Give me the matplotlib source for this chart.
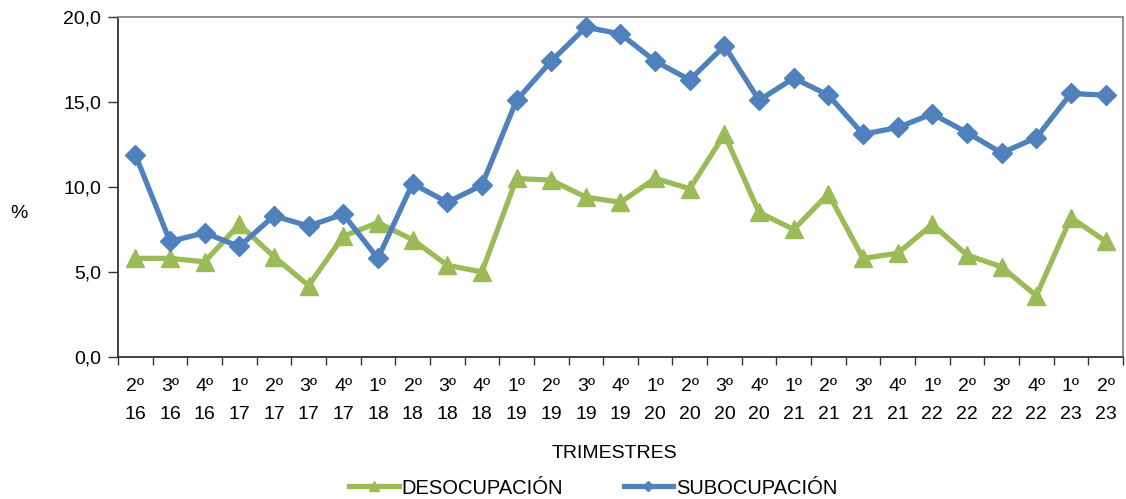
import matplotlib
matplotlib.use("Agg")
import matplotlib.pyplot as plt
import numpy as np

plt.rcParams['font.family'] = ['Liberation Sans', 'DejaVu Sans']

trimestres = ["2º", "3º", "4º", "1º", "2º", "3º", "4º", "1º", "2º", "3º", "4º",
              "1º", "2º", "3º", "4º", "1º", "2º", "3º", "4º", "1º", "2º", "3º",
              "4º", "1º", "2º", "3º", "4º", "1º", "2º"]
anios = ["16", "16", "16", "17", "17", "17", "17", "18", "18", "18", "18",
         "19", "19", "19", "19", "20", "20", "20", "20", "21", "21", "21",
         "21", "22", "22", "22", "22", "23", "23"]
desocupacion = [5.8, 5.8, 5.6, 7.8, 5.9, 4.2, 7.1, 7.9, 6.9, 5.4, 5.0,
                10.5, 10.4, 9.4, 9.1, 10.5, 9.9, 13.1, 8.5, 7.5, 9.6, 5.8,
                6.1, 7.8, 6.0, 5.3, 3.6, 8.2, 6.8]
subocupacion = [11.9, 6.8, 7.3, 6.5, 8.3, 7.7, 8.4, 5.8, 10.2, 9.1, 10.1,
                15.1, 17.4, 19.4, 19.0, 17.4, 16.3, 18.3, 15.1, 16.4, 15.4, 13.1,
                13.5, 14.3, 13.2, 12.0, 12.9, 15.5, 15.4]
yticks = [0, 5, 10, 15, 20]

green = "#9BBB59"
blue = "#4F81BD"
FS = 14

fig = plt.figure(figsize=(11.26, 4.99), dpi=100)
ax = fig.add_axes([0.1048, 0.2846, 0.8925, 0.6814])

x = np.arange(len(trimestres))
ax.plot(x, desocupacion, color=green, lw=3.8, marker="^", ms=13,
        markeredgecolor=green, label="DESOCUPACIÓN", zorder=3)
ax.plot(x, subocupacion, color=blue, lw=3.8, marker="D", ms=10,
        markeredgecolor=blue, label="SUBOCUPACIÓN", zorder=4)

ax.set_xlim(-0.5, len(x) - 0.5)
ax.set_ylim(0, 20)
ax.set_yticks(yticks)
ax.set_yticklabels([f"{v:.1f}".replace(".", ",") for v in yticks], fontsize=FS)

ax.set_xticks(x)
ax.set_xticklabels([f"{t}\n{a}" for t, a in zip(trimestres, anios)],
                   fontsize=FS, linespacing=1.85)
ax.tick_params(axis="x", which="major", length=0, pad=15)
ax.set_xticks(np.arange(-0.5, len(x), 1), minor=True)
ax.tick_params(axis="x", which="minor", length=6, width=1, color="#333333", direction="out")
ax.tick_params(axis="y", length=7, width=1, color="#333333", direction="out", pad=5)

for s in ["left", "bottom"]:
    ax.spines[s].set_color("#333333")
    ax.spines[s].set_linewidth(1.3)
for s in ["top", "right"]:
    ax.spines[s].set_color("#888888")
    ax.spines[s].set_linewidth(1.3)

fig.text(0.009, 0.573, "%", fontsize=FS, ha="left", va="center")
fig.text(0.546, 0.092, "TRIMESTRES", fontsize=FS, ha="center", va="center")

leg = fig.legend(loc="center", bbox_to_anchor=(0.527, 0.022), ncol=2, frameon=False,
                 fontsize=FS + 0.5, handlelength=2.45, handletextpad=0.15, columnspacing=3.0,
                 markerscale=0.55)

fig.savefig("out.png", dpi=100)
